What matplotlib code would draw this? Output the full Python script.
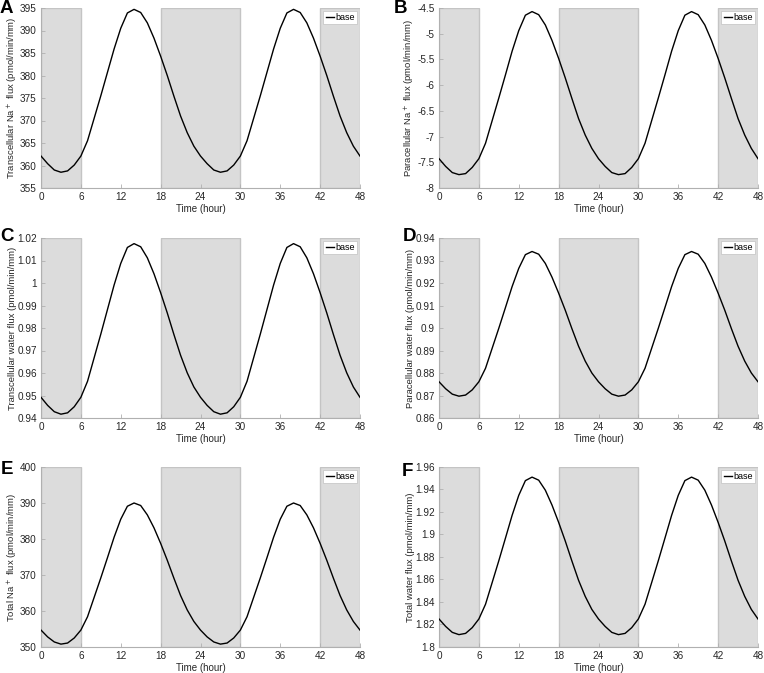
import numpy as np
import matplotlib
matplotlib.use("Agg")
import matplotlib.pyplot as plt
from matplotlib.ticker import FuncFormatter

plt.rcParams['font.family'] = ['Liberation Sans', 'DejaVu Sans']

# time axis (hours)
hours = list(range(49))

# values, one per hour
trans_na = [362.1, 360.4, 359.0, 358.5, 358.8, 360.1, 362.1, 365.5, 370.5, 375.5,
            380.7, 385.9, 390.5, 393.9, 394.7, 394.0, 391.7, 388.3, 384.3, 380.0,
            375.4, 371.0, 367.3, 364.3, 362.1, 360.4, 359.0, 358.5, 358.8, 360.1,
            362.1, 365.5, 370.5, 375.5, 380.7, 385.9, 390.5, 393.9, 394.7, 394.0,
            391.7, 388.3, 384.3, 380.0, 375.4, 371.0, 367.3, 364.3, 362.1]
para_na = [-7.43, -7.58, -7.70, -7.74, -7.72, -7.60, -7.43, -7.13, -6.69, -6.25,
           -5.80, -5.34, -4.94, -4.64, -4.57, -4.63, -4.83, -5.13, -5.48, -5.86,
           -6.26, -6.65, -6.97, -7.23, -7.43, -7.58, -7.70, -7.74, -7.72, -7.60,
           -7.43, -7.13, -6.69, -6.25, -5.80, -5.34, -4.94, -4.64, -4.57, -4.63,
           -4.83, -5.13, -5.48, -5.86, -6.26, -6.65, -6.97, -7.23, -7.43]
trans_w = [0.9492, 0.9456, 0.9428, 0.9417, 0.9423, 0.9450, 0.9492, 0.9563, 0.9668, 0.9773,
           0.9882, 0.9991, 1.0087, 1.0158, 1.0175, 1.0161, 1.0112, 1.0041, 0.9957, 0.9867,
           0.9771, 0.9679, 0.9601, 0.9538, 0.9492, 0.9456, 0.9428, 0.9417, 0.9423, 0.9450,
           0.9492, 0.9563, 0.9668, 0.9773, 0.9882, 0.9991, 1.0087, 1.0158, 1.0175, 1.0161,
           1.0112, 1.0041, 0.9957, 0.9867, 0.9771, 0.9679, 0.9601, 0.9538, 0.9492]
para_w = [0.8761, 0.8730, 0.8706, 0.8697, 0.8702, 0.8725, 0.8761, 0.8821, 0.8910, 0.8999,
          0.9091, 0.9184, 0.9265, 0.9326, 0.9340, 0.9328, 0.9287, 0.9226, 0.9155, 0.9079,
          0.8997, 0.8919, 0.8853, 0.8800, 0.8761, 0.8730, 0.8706, 0.8697, 0.8702, 0.8725,
          0.8761, 0.8821, 0.8910, 0.8999, 0.9091, 0.9184, 0.9265, 0.9326, 0.9340, 0.9328,
          0.9287, 0.9226, 0.9155, 0.9079, 0.8997, 0.8919, 0.8853, 0.8800, 0.8761]
total_na = [354.7, 352.8, 351.4, 350.8, 351.1, 352.5, 354.7, 358.4, 363.8, 369.2,
            374.8, 380.5, 385.5, 389.1, 390.0, 389.3, 386.7, 383.1, 378.8, 374.1,
            369.1, 364.3, 360.3, 357.1, 354.7, 352.8, 351.4, 350.8, 351.1, 352.5,
            354.7, 358.4, 363.8, 369.2, 374.8, 380.5, 385.5, 389.1, 390.0, 389.3,
            386.7, 383.1, 378.8, 374.1, 369.1, 364.3, 360.3, 357.1, 354.7]
total_w = [1.8249, 1.8183, 1.8130, 1.8110, 1.8121, 1.8172, 1.8249, 1.8380, 1.8573, 1.8767,
           1.8968, 1.9170, 1.9348, 1.9479, 1.9510, 1.9483, 1.9394, 1.9262, 1.9108, 1.8942,
           1.8764, 1.8593, 1.8450, 1.8334, 1.8249, 1.8183, 1.8130, 1.8110, 1.8121, 1.8172,
           1.8249, 1.8380, 1.8573, 1.8767, 1.8968, 1.9170, 1.9348, 1.9479, 1.9510, 1.9483,
           1.9394, 1.9262, 1.9108, 1.8942, 1.8764, 1.8593, 1.8450, 1.8334, 1.8249]

# dark periods (shaded)
dark = [(0, 6), (18, 30), (42, 48)]

panels = [
    ("A", trans_na, "Transcellular Na$^+$ flux (pmol/min/mm)", (355, 395), 5),
    ("B", para_na, "Paracellular Na$^+$ flux (pmol/min/mm)", (-8, -4.5), 0.5),
    ("C", trans_w, "Transcellular water flux (pmol/min/mm)", (0.94, 1.02), 0.01),
    ("D", para_w, "Paracellular water flux (pmol/min/mm)", (0.86, 0.94), 0.01),
    ("E", total_na, "Total Na$^+$ flux (pmol/min/mm)", (350, 400), 10),
    ("F", total_w, "Total water flux (pmol/min/mm)", (1.8, 1.96), 0.02),
]

W, H = 764, 673
fig = plt.figure(figsize=(W / 100, H / 100), dpi=100)

lefts = [41, 439]
tops = [8, 238, 467]
aw, ah = 319, 180
letter_pos = [(0, 0), (394, 0), (0, 228), (403, 228), (1, 461), (402, 463)]

for i, (letter, vals, ylab, ylim, step) in enumerate(panels):
    r, c = divmod(i, 2)
    x0 = lefts[c]
    y0 = tops[r]
    ax = fig.add_axes([x0 / W, 1 - (y0 + ah) / H, aw / W, ah / H])

    for a, b in dark:
        ax.axvspan(a, b, facecolor='#dcdcdc', edgecolor='#c4c4c4', linewidth=1.0, zorder=0)

    ax.plot(hours, vals, color='black', linewidth=1.0, label='base', zorder=3)

    ax.set_xlim(0, 48)
    ax.set_ylim(*ylim)
    ax.set_xticks(range(0, 49, 6))
    ax.set_yticks(np.arange(ylim[0], ylim[1] + step / 2, step))
    ax.yaxis.set_major_formatter(FuncFormatter(lambda v, p: ('%g' % round(v, 4))))

    for s in ['top', 'right']:
        ax.spines[s].set_visible(False)
    for s in ['left', 'bottom']:
        ax.spines[s].set_color('#b0b0b0')
        ax.spines[s].set_linewidth(0.8)
    ax.tick_params(direction='in', length=3, width=0.6, color='#b0b0b0',
                   labelsize=7.2, labelcolor='#262626', pad=3)

    ax.set_xlabel('Time (hour)', fontsize=7, color='#262626', labelpad=1)
    ax.set_ylabel(ylab, fontsize=6.8, color='#262626', labelpad=0)

    leg = ax.legend(loc='upper right', fontsize=6.5, handlelength=0.9,
                    handletextpad=0.2, borderpad=0.25, borderaxespad=0.3,
                    fancybox=False, framealpha=1, edgecolor='#c8c8c8')
    leg.get_frame().set_linewidth(0.6)

    lx, ly = letter_pos[i]
    fig.text(lx / W, 1 - ly / H, letter, fontsize=13.5, fontweight='bold',
             va='top', ha='left')

fig.savefig('out.png', dpi=100)
